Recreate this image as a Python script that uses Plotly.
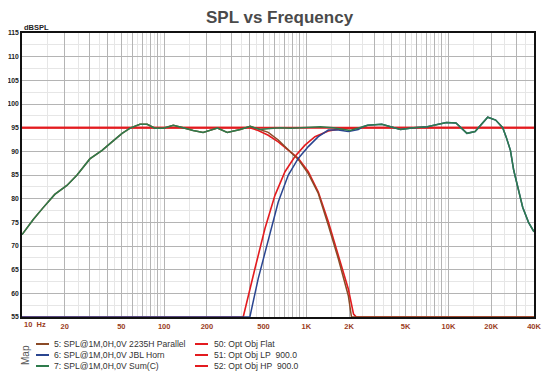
import math
import plotly.graph_objects as go

# ---------------- data ----------------
sum_freq = [10, 12, 14, 17, 20.7, 24.4, 30, 36.6, 40, 50.6, 57.6, 67.6, 76, 86, 98.6, 116, 136, 160, 188, 222,
            237, 278, 343, 403, 474, 556, 656, 780, 907, 1080, 1256, 1549, 2030, 2507, 2700, 3400, 4600, 5690,
            7100, 8500, 9700, 11300, 13500, 15400, 18900, 21500, 24100, 25500, 27300, 28800, 33300, 36600, 40000]
sum_db = [72.4, 75.6, 78.0, 80.9, 82.8, 85.0, 88.4, 90.2, 91.2, 93.8, 94.9, 95.7, 95.7, 94.9, 94.9, 95.5, 95.0, 94.4, 94.0, 94.6,
          94.9, 94.0, 94.6, 95.3, 94.6, 94.8, 95.0, 94.9, 95.0, 95.1, 95.2, 95.0, 94.4, 95.2, 95.5, 95.7, 94.6, 95.0,
          95.2, 95.7, 96.1, 96.0, 93.8, 94.2, 97.2, 96.6, 95.0, 93.0, 90.2, 86.0, 78.2, 75.0, 73.0]

woofer_freq = [10, 12, 14, 17, 20.7, 24.4, 30, 36.6, 40, 50.6, 57.6, 67.6, 76, 86, 98.6, 116, 136, 160, 188, 222,
               237, 278, 343, 403, 474, 540, 635, 747, 878, 1033, 1215, 1429, 1680, 1976, 2080, 40000]
woofer_db = [72.4, 75.6, 78.0, 80.9, 82.8, 85.0, 88.4, 90.2, 91.2, 93.8, 94.9, 95.7, 95.7, 94.9, 94.9, 95.5, 95.0, 94.4, 94.0, 94.6,
             94.9, 94.0, 94.6, 95.3, 94.6, 94.0, 92.4, 90.3, 88.3, 85.3, 81.1, 74.4, 67.3, 59.5, 55.0, 55.0]

horn_freq = [10, 401, 459, 540, 635, 747, 878, 1033, 1215, 1429, 1680, 1976, 2323, 2507, 2700, 3400, 4600, 5690,
             7100, 8500, 9700, 11300, 13500, 15400, 18900, 21500, 24100, 25500, 27300, 28800, 33300, 36600, 40000]
horn_db = [55.0, 55.0, 63.1, 71.5, 79.3, 85.0, 88.5, 91.0, 93.1, 94.5, 94.5, 94.2, 94.6, 95.2, 95.5, 95.7, 94.6, 95.0,
           95.2, 95.7, 96.1, 96.0, 93.8, 94.2, 97.2, 96.6, 95.0, 93.0, 90.2, 86.0, 78.2, 75.0, 73.0]

flat_freq = [10, 40000]
flat_db = [95.0, 95.0]

lp_freq = [10, 400, 459, 540, 635, 747, 878, 1033, 1215, 1429, 1680, 1976, 2150, 2250, 40000]
lp_db = [95.0, 95.0, 94.4, 93.4, 92.0, 90.3, 88.5, 85.7, 81.4, 75.1, 68.0, 60.9, 55.6, 55.0, 55.0]

hp_freq = [10, 360, 435, 512, 602, 708, 832, 979, 1151, 1429, 1680, 2000, 2500, 40000]
hp_db = [55.0, 55.0, 65.2, 73.7, 80.7, 85.7, 88.9, 91.3, 93.1, 94.3, 94.7, 94.9, 95.0, 95.0]

series_names = ["5: SPL@1M,0H,0V 2235H Parallel", "6: SPL@1M,0H,0V JBL Horn", "7: SPL@1M,0H,0V Sum(C)",
                "50: Opt Obj Flat", "51: Opt Obj LP  900.0", "52: Opt Obj HP  900.0"]

x_first_label = "10\u00a0\u00a0Hz"
x_tick_labels = {20: "20", 50: "50", 100: "100", 200: "200", 500: "500",
                 1000: "1K", 2000: "2K", 5000: "5K", 10000: "10K", 20000: "20K", 40000: "40K"}
y_ticks = [55, 60, 65, 70, 75, 80, 85, 90, 95, 100, 105, 110, 115]

# ---------------- styles ----------------
BROWN = "#8b4a26"
BLUE = "#2a4590"
GREEN = "#2e7b4c"
RED = "#e31b1f"
XLAB = "#9a3c1c"
FONT = "Liberation Sans, Arial, sans-serif"

fig = go.Figure()
# red objective curves first (they sit underneath the measurements)
fig.add_trace(go.Scatter(x=flat_freq, y=flat_db, mode="lines", name=series_names[3],
                         line=dict(color=RED, width=2)))
fig.add_trace(go.Scatter(x=lp_freq, y=lp_db, mode="lines", name=series_names[4],
                         line=dict(color=RED, width=1.6)))
fig.add_trace(go.Scatter(x=hp_freq, y=hp_db, mode="lines", name=series_names[5],
                         line=dict(color=RED, width=1.6)))
fig.add_trace(go.Scatter(x=woofer_freq, y=woofer_db, mode="lines", name=series_names[0],
                         line=dict(color=BROWN, width=1.5)))
fig.add_trace(go.Scatter(x=horn_freq, y=horn_db, mode="lines", name=series_names[1],
                         line=dict(color=BLUE, width=1.5)))
fig.add_trace(go.Scatter(x=sum_freq, y=sum_db, mode="lines", name=series_names[2],
                         line=dict(color=GREEN, width=1.5)))

# ---------------- axes ----------------
major_vals = []
for d in range(1, 5):
    for k in range(1, 10):
        v = k * 10 ** d
        if v <= 40000:
            major_vals.append(v)
major_text = [x_tick_labels.get(v, "") for v in major_vals]
minor_vals = []
for d in range(1, 5):
    for k in range(1, 10):
        v = (k + 0.5) * 10 ** d
        if v < 40000:
            minor_vals.append(v)

fig.update_xaxes(type="log", range=[1, math.log10(40000)], automargin=False,
                 tickmode="array", tickvals=major_vals, ticktext=major_text,
                 ticklabeloverflow="allow",
                 showgrid=True, gridcolor="#b4b4b4", gridwidth=1,
                 minor=dict(tickmode="array", tickvals=minor_vals, showgrid=True,
                            gridcolor="#e6e6e6", gridwidth=1, ticks=""),
                 showline=True, mirror=True, linecolor="#111111", linewidth=1.5,
                 ticks="", zeroline=False, layer="below traces", ticklabelstandoff=1,
                 tickfont=dict(family=FONT, size=7.5, color=XLAB, weight="bold"))
fig.update_yaxes(range=[55, 115], tickmode="array", tickvals=y_ticks, automargin=False,
                 ticktext=[str(v) for v in y_ticks], ticklabeloverflow="allow",
                 showgrid=True, gridcolor="#b4b4b4", gridwidth=1,
                 minor=dict(dtick=2.5, showgrid=True, gridcolor="#e6e6e6", gridwidth=1, ticks=""),
                 showline=True, mirror=True, linecolor="#111111", linewidth=1.5,
                 ticks="", zeroline=False, layer="below traces", ticklabelstandoff=0,
                 tickfont=dict(family=FONT, size=6.8, color="#222222", weight="bold"))

# ---------------- layout geometry (page pixels; the page body adds an 8px offset) ----------------
OFF = 8
W, H = 550, 376
PL, PR, PT, PB = 22, 534, 33, 317          # plot area edges in page pixels
L, T = PL - OFF, PT - OFF
R = W - (PR - OFF)
B = H - (PB - OFF)
pw, ph = PR - PL, PB - PT


def px_x(x):
    return (x - PL) / pw


def px_y(y):
    return (PB - y) / ph


legend_items = [(series_names[0], BROWN, 0), (series_names[1], BLUE, 0), (series_names[2], GREEN, 0),
                (series_names[3], RED, 1), (series_names[4], RED, 1), (series_names[5], RED, 1)]
row_y = [344, 355, 366]
col_line = [(36, 49), (195, 208)]
col_text = [52, 212]
shapes = []
annotations = []
for i, (name, color, col) in enumerate(legend_items):
    yy = px_y(row_y[i % 3])
    shapes.append(dict(type="line", xref="paper", yref="paper",
                       x0=px_x(col_line[col][0]), x1=px_x(col_line[col][1]), y0=yy, y1=yy,
                       line=dict(color=color, width=2)))
    annotations.append(dict(text=name, xref="paper", yref="paper", x=px_x(col_text[col]), y=yy,
                            xanchor="left", yanchor="middle", showarrow=False,
                            font=dict(family=FONT, size=8.6, color="#333333")))
annotations.append(dict(text="Map", xref="paper", yref="paper", x=px_x(25), y=px_y(355),
                        xanchor="center", yanchor="middle", textangle=-90, showarrow=False,
                        font=dict(family=FONT, size=10, color="#555555")))
annotations.append(dict(text="dBSPL", xref="paper", yref="paper", x=px_x(22), y=px_y(27),
                        xanchor="left", yanchor="middle", showarrow=False,
                        font=dict(family=FONT, size=7.5, color="#222222", weight="bold")))
# first x tick label sits to the right of its tick, as in the reference
annotations.append(dict(text=x_first_label, xref="x", yref="paper", x=math.log10(flat_freq[0]),
                        y=px_y(324), xanchor="left", yanchor="middle", showarrow=False,
                        font=dict(family=FONT, size=7.5, color=XLAB, weight="bold")))
# chart title (as an annotation so it can sit close to the top edge without clipping)
annotations.append(dict(text="SPL vs Frequency", xref="paper", yref="paper", x=px_x(279.5),
                        y=px_y(17), xanchor="center", yanchor="middle", showarrow=False,
                        font=dict(family=FONT, size=17, color="#4a4a4a", weight="bold")))

fig.update_layout(
    width=W, height=H,
    margin=dict(l=L, r=R, t=T, b=B, pad=0),
    paper_bgcolor="white", plot_bgcolor="white",
    showlegend=False,
    shapes=shapes, annotations=annotations,
)

fig.write_html("out.html")
